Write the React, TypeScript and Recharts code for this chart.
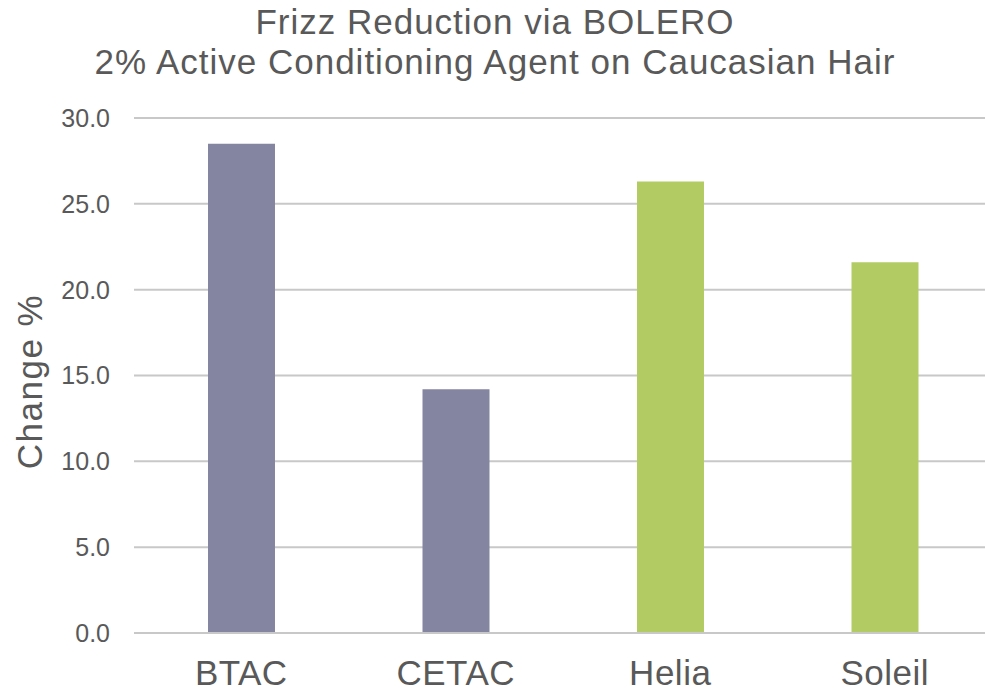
import { BarChart, Bar, XAxis, YAxis, CartesianGrid, Cell } from 'recharts';

// Frizz reduction per conditioning agent (Change %)
const categories = ['BTAC', 'CETAC', 'Helia', 'Soleil'];
const changeValues = [28.5, 14.2, 26.3, 21.6];
const barColors = ['#8385a1', '#8385a1', '#b3cb63', '#b3cb63'];
const yTicks = [0, 5, 10, 15, 20, 25, 30];

const data = categories.map((name, i) => ({ name, change: changeValues[i] }));

const textColor = '#595959';
const font = '"Liberation Sans", Arial, sans-serif';

export default function App() {
  return (
    <div
      style={{
        position: 'absolute',
        left: 0,
        top: 0,
        width: 985,
        height: 695,
        overflow: 'hidden',
        background: '#fff',
        fontFamily: font,
      }}
    >
      <div
        style={{
          position: 'absolute',
          left: 0,
          top: 2,
          width: 990,
          textAlign: 'center',
          color: textColor,
          fontSize: 35,
          letterSpacing: 1,
          lineHeight: '40px',
        }}
      >
        <div>Frizz Reduction via BOLERO</div>
        <div>2% Active Conditioning Agent on Caucasian Hair</div>
      </div>
      <BarChart
        width={992}
        height={695}
        data={data}
        margin={{ top: 118, right: 0, bottom: 0, left: 0 }}
        barSize={67}
      >
        <CartesianGrid vertical={false} stroke="#c8c8c8" strokeWidth={2} />
        <XAxis
          dataKey="name"
          height={62}
          axisLine={{ stroke: '#c8c8c8', strokeWidth: 2 }}
          tickLine={false}
          tickSize={0}
          tickMargin={27}
          tick={{ fill: textColor, fontSize: 35, fontFamily: font, letterSpacing: 0.5 }}
        />
        <YAxis
          width={134}
          domain={[0, 30]}
          ticks={yTicks}
          axisLine={false}
          tickLine={false}
          tickSize={0}
          tickMargin={24}
          tickFormatter={(v: number) => v.toFixed(1)}
          tick={{ fill: textColor, fontSize: 25, fontFamily: font }}
          label={{
            value: 'Change %',
            angle: -90,
            position: 'center',
            dx: -37,
            dy: 6,
            fill: textColor,
            fontSize: 35,
            letterSpacing: 1.5,
            fontFamily: font,
          }}
        />
        <Bar dataKey="change" isAnimationActive={false}>
          {data.map((d, i) => (
            <Cell key={d.name} fill={barColors[i]} />
          ))}
        </Bar>
      </BarChart>
    </div>
  );
}
